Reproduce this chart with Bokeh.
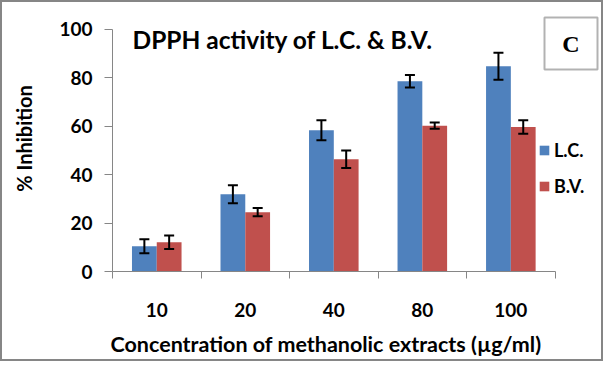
from bokeh.plotting import figure
from bokeh.models import (ColumnDataSource, Whisker, TeeHead, FixedTicker, Legend,
                          LegendItem, Label, BoxAnnotation, Range1d, Title)
from bokeh.embed import file_html
from bokeh.resources import INLINE

categories = ["10", "20", "40", "80", "100"]
lc_values = [10.4, 31.9, 58.3, 78.5, 84.7]
lc_errors = [2.9, 3.7, 4.1, 2.6, 5.6]
bv_values = [12.1, 24.5, 46.3, 60.2, 59.6]
bv_errors = [2.8, 1.7, 3.6, 1.3, 2.8]
y_ticks = [0, 20, 40, 60, 80, 100]

BLUE = "#4F81BD"
RED = "#C0504D"
AXIS = "#868686"
FONT = "Lato"

n = len(categories)
centers = [i + 0.5 for i in range(n)]
bw = 0.28

# layout geometry (pixels)
W, H = 603, 361
LEFT, RIGHT, TOP, BOTTOM = 110, 1, 3, 92
PX_PER_CAT = 88.52
PX_PER_PCT = 2.423
frame_w = W - LEFT - RIGHT
frame_h = H - TOP - BOTTOM
x_end = frame_w / PX_PER_CAT
y_end = frame_h / PX_PER_PCT

lc_src = ColumnDataSource(dict(
    x=[c - bw / 2 for c in centers], top=lc_values,
    upper=[v + e for v, e in zip(lc_values, lc_errors)],
    lower=[v - e for v, e in zip(lc_values, lc_errors)]))
bv_src = ColumnDataSource(dict(
    x=[c + bw / 2 for c in centers], top=bv_values,
    upper=[v + e for v, e in zip(bv_values, bv_errors)],
    lower=[v - e for v, e in zip(bv_values, bv_errors)]))

p = figure(width=W, height=H, output_backend="svg", toolbar_location=None,
           x_range=Range1d(0, x_end), y_range=Range1d(0, y_end),
           min_border_left=LEFT, min_border_top=TOP, min_border_right=RIGHT,
           min_border_bottom=BOTTOM,
           styles={"border": "2px solid #868686"})
p.xgrid.visible = False
p.ygrid.visible = False
p.outline_line_color = None
p.background_fill_color = "white"
p.border_fill_color = "white"

r1 = p.vbar(x="x", top="top", width=bw, source=lc_src, fill_color=BLUE, line_color=None)
r2 = p.vbar(x="x", top="top", width=bw, source=bv_src, fill_color=RED, line_color=None)

for src in (lc_src, bv_src):
    w = Whisker(base="x", upper="upper", lower="lower", source=src,
                line_color="black", line_width=2, level="annotation",
                upper_head=TeeHead(size=10, line_color="black", line_width=2),
                lower_head=TeeHead(size=10, line_color="black", line_width=2))
    p.add_layout(w)

# axes
xa = p.xaxis[0]
xa.bounds = (0, n)
xa.ticker = FixedTicker(ticks=centers, minor_ticks=list(range(n + 1)))
xa.major_label_overrides = {c: lab for c, lab in zip(centers, categories)}
xa.major_tick_out = 0
xa.major_tick_in = 0
xa.minor_tick_out = 7
xa.minor_tick_in = 0
xa.minor_tick_line_color = AXIS
xa.axis_line_color = AXIS
xa.major_label_standoff = 24
xa.major_label_text_font = FONT
xa.major_label_text_font_style = "bold"
xa.major_label_text_font_size = "19px"
xa.major_label_text_color = "black"

# small spacer, then the x axis title, left-aligned under the axis
p.add_layout(Title(text=" ", text_font_size="1px", standoff=5), "below")
p.add_layout(Title(text="Concentration of methanolic extracts (µg/ml)",
                   align="left", offset=-2, standoff=2, text_font=FONT,
                   text_font_style="bold", text_font_size="21.5px",
                   text_color="black"), "below")

ya = p.yaxis[0]
ya.bounds = (0, 100)
ya.ticker = FixedTicker(ticks=y_ticks)
ya.major_tick_out = 8
ya.major_tick_in = 0
ya.minor_tick_line_color = None
ya.major_tick_line_color = AXIS
ya.axis_line_color = AXIS
ya.major_label_standoff = 12
ya.major_label_text_font = FONT
ya.major_label_text_font_style = "bold"
ya.major_label_text_font_size = "19px"
ya.major_label_text_color = "black"
ya.axis_label = "% Inhibition"
ya.axis_label_text_font = FONT
ya.axis_label_text_font_style = "bold"
ya.axis_label_text_font_size = "20px"
ya.axis_label_text_color = "black"
ya.axis_label_standoff = 20

# legend
legend = Legend(items=[LegendItem(label="L.C.", renderers=[r1]),
                       LegendItem(label="B.V.", renderers=[r2])],
                location=(426, 74), glyph_width=12, glyph_height=12,
                label_standoff=4, spacing=14, padding=0, margin=0,
                label_text_font=FONT, label_text_font_style="bold",
                label_text_font_size="18px", label_text_color="black",
                border_line_alpha=0, background_fill_alpha=0)
p.add_layout(legend, "center")

# title
p.add_layout(Label(x=20, y=232, x_units="screen", y_units="screen",
                   text="DPPH activity of L.C. & B.V.", text_font=FONT,
                   text_font_style="bold", text_font_size="24.5px",
                   text_color="black", text_baseline="alphabetic"))

# "C" box
p.add_layout(BoxAnnotation(left=432, right=485, bottom=202, top=254,
                           left_units="screen", right_units="screen",
                           bottom_units="screen", top_units="screen",
                           fill_alpha=0, line_color="black", line_width=2))
p.add_layout(Label(x=458.5, y=228, x_units="screen", y_units="screen",
                   text="C", text_font="Liberation Serif", text_font_style="bold",
                   text_font_size="24px", text_color="black",
                   text_align="center", text_baseline="middle"))

open("out.html", "w").write(file_html(p, INLINE))
